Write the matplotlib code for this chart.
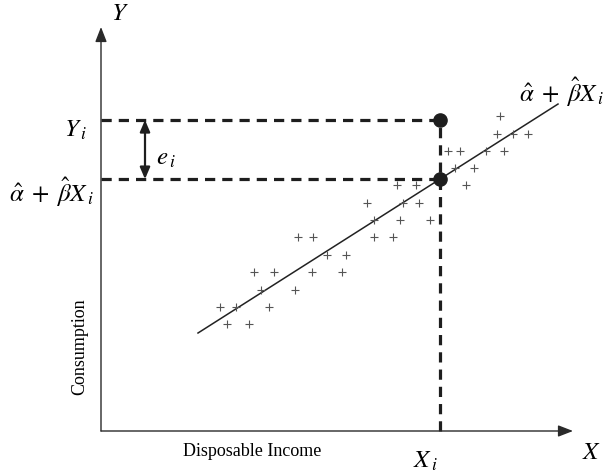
import matplotlib
matplotlib.use("Agg")
import matplotlib.pyplot as plt
import numpy as np

plt.rcParams['mathtext.fontset'] = 'stix'
plt.rcParams['font.family'] = ['Liberation Serif', 'DejaVu Serif']

# Scatter observations (disposable income, consumption)
income = [39.9, 39.6, 41.2, 42.7, 34.7, 35.9, 38.5, 40.3, 35.4, 37.3,
          36.5, 29.6, 31.5, 26.6, 30.2, 31.8, 27.3, 29.9, 32.9, 19.7,
          21.2, 27.3, 29.2, 22.6, 24.5, 15.3, 17.3, 21.1, 24.1, 16.0,
          19.4, 11.9, 13.5, 16.8, 12.6, 14.8]
consumption = [31.5, 29.7, 29.7, 29.7, 28.0, 28.0, 28.0, 28.0, 26.3, 26.3,
               24.6, 24.6, 24.6, 22.8, 22.8, 22.8, 21.1, 21.1, 21.1, 19.4,
               19.4, 19.4, 19.4, 17.6, 17.6, 15.9, 15.9, 15.9, 15.9, 14.1,
               14.1, 12.4, 12.4, 12.4, 10.7, 10.7]

# Fitted regression line
alpha_hat = 3.63
beta_hat = 0.636
line_x = [9.7, 45.7]

# Highlighted observation
X_i = 33.9
Y_i = 31.1

fig = plt.figure(figsize=(6.12, 4.77), dpi=100)
ax = fig.add_axes([0, 0, 1, 1])
ax.set_xlim(-10.1, 51.1)
ax.set_ylim(-4.5, 43.2)
ax.axis('off')

axis_col = '#2a2a2a'
# Axes with arrows
ax.annotate('', xy=(47.2, 0), xytext=(0, 0),
            arrowprops=dict(arrowstyle='-|>,head_length=0.9,head_width=0.35',
                            color=axis_col, lw=1.0, shrinkA=0, shrinkB=0))
ax.annotate('', xy=(0, 40.4), xytext=(0, 0),
            arrowprops=dict(arrowstyle='-|>,head_length=0.9,head_width=0.35',
                            color=axis_col, lw=1.0, shrinkA=0, shrinkB=0))

# Regression line
lx = np.array(line_x)
ax.plot(lx, alpha_hat + beta_hat * lx, color='#222222', lw=1.1)

# Scatter
ax.plot(income, consumption, linestyle='none', marker='+', markersize=6,
        markeredgewidth=0.8, color='#555555')

fitted = alpha_hat + beta_hat * X_i
dash_kw = dict(color='#1e1e1e', lw=2.3, linestyle=(0, (3.2, 2.2)))
ax.plot([0, X_i], [Y_i, Y_i], **dash_kw)
ax.plot([0, X_i], [fitted, fitted], **dash_kw)
ax.plot([X_i, X_i], [0, Y_i], **dash_kw)

ax.plot([X_i, X_i], [Y_i, fitted], linestyle='none', marker='o',
        markersize=9.5, color='#1e1e1e')

# Residual arrow
ax.annotate('', xy=(4.4, Y_i), xytext=(4.4, fitted),
            arrowprops=dict(arrowstyle='<|-|>,head_length=0.7,head_width=0.3',
                            color='#1e1e1e', lw=1.6, shrinkA=0, shrinkB=0))

big = 18
fit_label = r'$\hat{\alpha}\;+\;\hat{\beta}X_{\,i}$'
ax.text(1.9, 41.8, r'$Y$', fontsize=big, ha='center', va='center')
ax.text(-1.4, 30.2, r'$Y_{\,i}$', fontsize=big, ha='right', va='center')
ax.text(-5.0, 24.0, fit_label, fontsize=big, ha='center', va='center')
ax.text(6.5, 27.3, r'$e_{\,i}$', fontsize=big, ha='center', va='center')
ax.text(46.0, 34.0, fit_label, fontsize=big, ha='center', va='center')
ax.text(32.4, -2.9, r'$X_{\,i}$', fontsize=big, ha='center', va='center')
ax.text(49.1, -2.1, r'$X$', fontsize=big, ha='center', va='center')

ax.text(15.1, -2.0, 'Disposable Income', fontsize=13, ha='center', va='center')
ax.text(-2.1, 8.5, 'Consumption', fontsize=13, ha='center', va='center',
        rotation=90)

fig.savefig('out.png', dpi=100)
